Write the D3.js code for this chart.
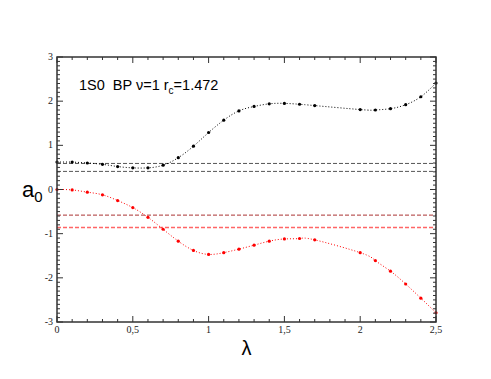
<!DOCTYPE html>
<html>
<head>
<meta charset="utf-8">
<script src="https://cdn.jsdelivr.net/npm/d3@7"></script>
<style>
  body { margin: 0; background: #fff; }
  .tick-label { font-family: "Liberation Serif", "DejaVu Serif", serif; font-size: 10px; fill: #222; }
  .big { font-family: "Liberation Sans", Arial, sans-serif; fill: #000; white-space: pre; }
</style>
</head>
<body>
<div id="chart"></div>
<script>
// lambda values where a0 was computed
var lambdaVals = [0, 0.1, 0.2, 0.3, 0.4, 0.5, 0.6, 0.7, 0.8, 0.9, 1.0, 1.1, 1.2, 1.3, 1.4, 1.5, 1.6, 1.7,
                  2.0, 2.1, 2.2, 2.3, 2.4, 2.5];
var upperVals = [0.62, 0.62, 0.60, 0.57, 0.52, 0.49, 0.49, 0.55, 0.72, 0.98, 1.29, 1.57, 1.78, 1.88, 1.94, 1.95, 1.93, 1.90,
                 1.81, 1.80, 1.83, 1.92, 2.10, 2.41];
var lowerVals = [0.0, -0.01, -0.06, -0.12, -0.25, -0.41, -0.63, -0.90, -1.17, -1.38, -1.47, -1.43, -1.35, -1.26, -1.17, -1.12, -1.11, -1.14,
                 -1.43, -1.61, -1.85, -2.14, -2.46, -2.79];
// horizontal reference levels
var blackLevels = [0.59, 0.41];
var redLevels = [-0.58, -0.86];
var xTicks = [0, 0.5, 1, 1.5, 2, 2.5];
var xTickLabels = ["0", "0,5", "1", "1,5", "2", "2,5"];
var yTicks = [-3, -2, -1, 0, 1, 2, 3];

var width = 491, height = 379;
var margin = {top: 57, right: 55, bottom: 57, left: 57};

var svg = d3.select("#chart").append("svg")
    .attr("width", width)
    .attr("height", height);

var x = d3.scaleLinear().domain([0, 2.5]).range([margin.left, width - margin.right]);
var y = d3.scaleLinear().domain([-3, 3]).range([height - margin.bottom, margin.top]);

var axisColor = "#333";

// reference lines
svg.selectAll(".blev").data(blackLevels).enter().append("line")
    .attr("x1", x(0)).attr("x2", x(2.5))
    .attr("y1", d => y(d)).attr("y2", d => y(d))
    .attr("stroke", "#555").attr("stroke-width", 1)
    .attr("stroke-dasharray", "4,2");

svg.append("line")
    .attr("x1", x(0)).attr("x2", x(2.5))
    .attr("y1", y(redLevels[0])).attr("y2", y(redLevels[0]))
    .attr("stroke", "#a33").attr("stroke-width", 1)
    .attr("stroke-dasharray", "4,2");
svg.append("line")
    .attr("x1", x(0)).attr("x2", x(2.5))
    .attr("y1", y(redLevels[1])).attr("y2", y(redLevels[1]))
    .attr("stroke", "#f66").attr("stroke-width", 1.3)
    .attr("stroke-dasharray", "4,2");

// curves
var line = d3.line()
    .x(d => x(d[0]))
    .y(d => y(d[1]))
    .curve(d3.curveNatural);

function drawSeries(vals, color) {
  var pts = lambdaVals.map((l, i) => [l, vals[i]]);
  svg.append("path")
      .datum(pts)
      .attr("d", line)
      .attr("fill", "none")
      .attr("stroke", color)
      .attr("stroke-width", 1)
      .attr("stroke-dasharray", "1,2");
  svg.append("g").selectAll("circle")
      .data(pts)
    .enter().append("circle")
      .attr("cx", d => x(d[0]))
      .attr("cy", d => y(d[1]))
      .attr("r", 1.6)
      .attr("fill", color);
}
drawSeries(upperVals, "#000");
drawSeries(lowerVals, "#f00");

// frame
svg.append("rect")
    .attr("x", x(0)).attr("y", y(3))
    .attr("width", x(2.5) - x(0)).attr("height", y(-3) - y(3))
    .attr("fill", "none").attr("stroke", axisColor).attr("stroke-width", 1.5);

// ticks (inward, on all four sides)
var xMinor = d3.range(0, 26).map(i => i / 10);
var yMinor = d3.range(-30, 31).map(i => i / 10);
function isMajor(v) { return Math.abs(v * 2 - Math.round(v * 2)) < 1e-6; }
function isInt(v) { return Math.abs(v - Math.round(v)) < 1e-6; }

var tg = svg.append("g").attr("stroke", axisColor).attr("stroke-width", 1);
xMinor.forEach(function(v) {
  var len = isMajor(v) ? 6 : 3;
  tg.append("line").attr("x1", x(v)).attr("x2", x(v)).attr("y1", y(-3)).attr("y2", y(-3) - len);
  tg.append("line").attr("x1", x(v)).attr("x2", x(v)).attr("y1", y(3)).attr("y2", y(3) + len);
});
yMinor.forEach(function(v) {
  var len = isInt(v) ? 6 : 3;
  tg.append("line").attr("y1", y(v)).attr("y2", y(v)).attr("x1", x(0)).attr("x2", x(0) + len);
  tg.append("line").attr("y1", y(v)).attr("y2", y(v)).attr("x1", x(2.5)).attr("x2", x(2.5) - len);
});

// tick labels
svg.selectAll(".xl").data(xTicks).enter().append("text")
    .attr("class", "tick-label")
    .attr("x", d => x(d)).attr("y", y(-3) + 11)
    .attr("text-anchor", "middle")
    .text((d, i) => xTickLabels[i]);
svg.selectAll(".yl").data(yTicks).enter().append("text")
    .attr("class", "tick-label")
    .attr("x", x(0) - 4).attr("y", d => y(d) + 3)
    .attr("text-anchor", "end")
    .text(d => d);

// axis titles
var yt = svg.append("text").attr("class", "big")
    .attr("x", 22).attr("y", 197).style("font-size", "22px");
yt.append("tspan").text("a");
yt.append("tspan").attr("dy", 5).style("font-size", "15px").text("0");

svg.append("text").attr("class", "big")
    .attr("x", x(1.25)).attr("y", 355)
    .attr("text-anchor", "middle")
    .style("font-size", "20px")
    .text("λ");

// annotation
var ann = svg.append("text").attr("class", "big")
    .attr("x", 79).attr("y", 90).style("font-size", "14.5px");
ann.append("tspan").text("1S0  BP ν=1 r");
ann.append("tspan").attr("dy", 4).style("font-size", "10px").text("c");
ann.append("tspan").attr("dy", -4).text("=1.472");
</script>
</body>
</html>
